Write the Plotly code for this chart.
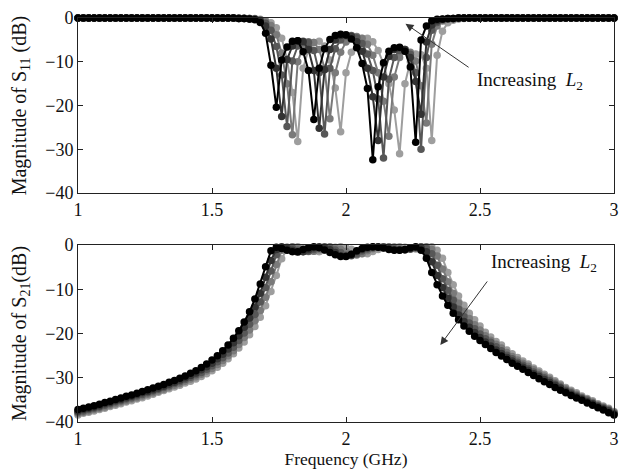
import plotly.graph_objects as go

# Frequency sweep (GHz)
freq_ghz = [
    1.00, 1.02, 1.04, 1.06, 1.08, 1.10, 1.12, 1.14, 1.16, 1.18,
    1.20, 1.22, 1.24, 1.26, 1.28, 1.30, 1.32, 1.34, 1.36, 1.38,
    1.40, 1.42, 1.44, 1.46, 1.48, 1.50, 1.52, 1.54, 1.56, 1.58,
    1.60, 1.62, 1.64, 1.66, 1.68, 1.70, 1.72, 1.74, 1.76, 1.78,
    1.80, 1.82, 1.84, 1.86, 1.88, 1.90, 1.92, 1.94, 1.96, 1.98,
    2.00, 2.02, 2.04, 2.06, 2.08, 2.10, 2.12, 2.14, 2.16, 2.18,
    2.20, 2.22, 2.24, 2.26, 2.28, 2.30, 2.32, 2.34, 2.36, 2.38,
    2.40, 2.42, 2.44, 2.46, 2.48, 2.50, 2.52, 2.54, 2.56, 2.58,
    2.60, 2.62, 2.64, 2.66, 2.68, 2.70, 2.72, 2.74, 2.76, 2.78,
    2.80, 2.82, 2.84, 2.86, 2.88, 2.90, 2.92, 2.94, 2.96, 2.98,
    3.00,
]

# |S11| (dB) for five values of L2, smallest L2 first
s11_l2_1 = [
    0, 0, 0, 0, 0, 0, 0, 0, 0, 0,
    0, 0, 0, 0, 0, 0, 0, 0, 0, 0,
    0, 0, 0, 0, 0, 0, 0, 0, 0, 0,
    -0.1, -0.1, -0.2, -0.4, -1.0, -3.5, -10.8, -20.4, -9.6, -6.6,
    -5.3, -5.2, -7.7, -12.0, -23.2, -11.5, -7.0, -4.9, -4.0, -3.7,
    -3.9, -4.8, -6.8, -10.4, -16.1, -32.4, -15.7, -10.2, -7.6, -6.8,
    -6.7, -7.6, -11.2, -28.4, -5.0, -1.8, -0.6, -0.3, -0.2, -0.1,
    -0.1, 0, 0, 0, 0, 0, 0, 0, 0, 0,
    0, 0, 0, 0, 0, 0, 0, 0, 0, 0,
    0, 0, 0, 0, 0, 0, 0, 0, 0, 0,
    0,
]
s11_l2_2 = [
    0, 0, 0, 0, 0, 0, 0, 0, 0, 0,
    0, 0, 0, 0, 0, 0, 0, 0, 0, 0,
    0, 0, 0, 0, 0, 0, 0, 0, 0, 0,
    -0.1, -0.1, -0.2, -0.3, -0.7, -1.8, -4.8, -11.5, -22.5, -9.5,
    -6.4, -5.2, -5.4, -7.2, -12.0, -25.2, -11.8, -7.2, -5.0, -4.0,
    -3.8, -4.2, -5.4, -7.6, -11.5, -18.0, -28.0, -13.5, -8.8, -7.2,
    -6.8, -7.2, -9.0, -14.5, -22.0, -5.5, -1.6, -0.6, -0.3, -0.1,
    -0.1, 0, 0, 0, 0, 0, 0, 0, 0, 0,
    0, 0, 0, 0, 0, 0, 0, 0, 0, 0,
    0, 0, 0, 0, 0, 0, 0, 0, 0, 0,
    0,
]
s11_l2_3 = [
    0, 0, 0, 0, 0, 0, 0, 0, 0, 0,
    0, 0, 0, 0, 0, 0, 0, 0, 0, 0,
    0, 0, 0, 0, 0, 0, 0, 0, 0, 0,
    -0.1, -0.1, -0.1, -0.2, -0.5, -1.2, -2.8, -6.5, -13.0, -24.8,
    -9.8, -6.4, -5.3, -5.6, -7.4, -12.5, -26.5, -11.5, -7.0, -5.0,
    -4.1, -4.0, -4.5, -5.8, -8.2, -12.0, -18.5, -32.0, -14.0, -9.0,
    -7.4, -7.2, -8.3, -12.5, -30.0, -9.0, -2.8, -1.0, -0.4, -0.2,
    -0.1, 0, 0, 0, 0, 0, 0, 0, 0, 0,
    0, 0, 0, 0, 0, 0, 0, 0, 0, 0,
    0, 0, 0, 0, 0, 0, 0, 0, 0, 0,
    0,
]
s11_l2_4 = [
    0, 0, 0, 0, 0, 0, 0, 0, 0, 0,
    0, 0, 0, 0, 0, 0, 0, 0, 0, 0,
    0, 0, 0, 0, 0, 0, 0, 0, 0, 0,
    0, -0.1, -0.1, -0.2, -0.4, -0.8, -1.7, -3.8, -8.0, -15.0,
    -26.7, -10.0, -6.5, -5.4, -5.6, -7.2, -11.5, -23.0, -12.5, -7.8,
    -5.5, -4.5, -4.2, -4.6, -6.0, -8.5, -12.5, -19.0, -27.0, -13.5,
    -9.0, -7.6, -7.8, -9.8, -15.5, -24.0, -6.0, -1.8, -0.7, -0.3,
    -0.2, -0.1, 0, 0, 0, 0, 0, 0, 0, 0,
    0, 0, 0, 0, 0, 0, 0, 0, 0, 0,
    0, 0, 0, 0, 0, 0, 0, 0, 0, 0,
    0,
]
s11_l2_5 = [
    0, 0, 0, 0, 0, 0, 0, 0, 0, 0,
    0, 0, 0, 0, 0, 0, 0, 0, 0, 0,
    0, 0, 0, 0, 0, 0, 0, 0, 0, 0,
    0, 0, -0.1, -0.1, -0.3, -0.6, -1.1, -2.2, -4.6, -9.5,
    -17.0, -28.2, -11.5, -7.2, -5.6, -5.3, -6.4, -9.6, -16.0, -26.0,
    -12.5, -7.8, -5.6, -4.7, -4.6, -5.4, -7.4, -10.5, -15.0, -21.0,
    -31.0, -15.0, -10.0, -8.2, -8.4, -11.5, -28.0, -8.5, -3.0, -1.1,
    -0.5, -0.2, -0.1, 0, 0, 0, 0, 0, 0, 0,
    0, 0, 0, 0, 0, 0, 0, 0, 0, 0,
    0, 0, 0, 0, 0, 0, 0, 0, 0, 0,
    0,
]

# |S21| (dB) for the same five values of L2
s21_l2_1 = [
    -37.2, -36.9, -36.6, -36.3, -36.0, -35.6, -35.3, -34.9, -34.6, -34.2,
    -33.9, -33.5, -33.1, -32.7, -32.3, -31.9, -31.5, -31.0, -30.6, -30.1,
    -29.6, -29.0, -28.4, -27.7, -26.9, -26.0, -25.0, -23.9, -22.6, -21.1,
    -19.4, -17.4, -15.1, -12.2, -8.8, -4.9, -1.3, -0.5, -0.8, -1.2,
    -1.5, -1.5, -1.0, -0.6, -0.4, -0.6, -1.1, -1.7, -2.2, -2.6,
    -2.6, -2.1, -1.3, -0.8, -0.5, -0.4, -0.5, -0.7, -1.0, -1.2,
    -1.2, -1.0, -0.6, -0.4, -1.2, -3.0, -6.2, -9.0, -11.5, -13.6,
    -15.4, -16.9, -18.3, -19.5, -20.6, -21.6, -22.5, -23.4, -24.3, -25.1,
    -25.9, -26.7, -27.4, -28.1, -28.8, -29.5, -30.2, -30.9, -31.5, -32.2,
    -32.8, -33.4, -34.0, -34.6, -35.1, -35.7, -36.2, -36.8, -37.3, -37.9,
    -38.4,
]
s21_l2_2 = [
    -37.5, -37.2, -36.9, -36.6, -36.3, -35.9, -35.6, -35.2, -34.9, -34.5,
    -34.2, -33.8, -33.4, -33.1, -32.7, -32.3, -31.9, -31.4, -31.0, -30.5,
    -30.0, -29.5, -28.9, -28.2, -27.5, -26.7, -25.7, -24.7, -23.5, -22.1,
    -20.5, -18.6, -16.5, -14.0, -10.9, -7.3, -3.5, -1.0, -0.4, -0.75,
    -1.2, -1.6, -1.5, -1.05, -0.6, -0.4, -0.6, -1.05, -1.7, -2.4,
    -2.55, -2.25, -1.45, -1.0, -0.6, -0.45, -0.4, -0.55, -0.8, -1.05,
    -1.1, -1.05, -0.8, -0.5, -0.6, -1.5, -3.8, -6.9, -9.6, -12.0,
    -14.0, -15.8, -17.3, -18.6, -19.8, -20.9, -21.9, -22.8, -23.7, -24.5,
    -25.4, -26.2, -26.9, -27.6, -28.3, -29.1, -29.7, -30.4, -31.1, -31.7,
    -32.3, -33.1, -33.7, -34.3, -34.8, -35.4, -35.9, -36.5, -37.0, -37.5,
    -38.2,
]
s21_l2_3 = [
    -37.8, -37.5, -37.2, -36.9, -36.6, -36.2, -35.9, -35.5, -35.2, -34.8,
    -34.5, -34.1, -33.8, -33.4, -33.0, -32.6, -32.2, -31.8, -31.3, -30.9,
    -30.4, -29.9, -29.3, -28.8, -28.1, -27.3, -26.4, -25.5, -24.4, -23.1,
    -21.6, -19.9, -17.9, -15.7, -12.9, -9.6, -5.9, -2.2, -0.8, -0.5,
    -0.7, -1.2, -1.5, -1.4, -1.0, -0.6, -0.4, -0.6, -1.1, -1.7,
    -2.3, -2.4, -2.0, -1.35, -0.9, -0.6, -0.45, -0.4, -0.55, -0.8,
    -1.0, -1.05, -0.9, -0.6, -0.4, -0.8, -2.0, -4.6, -7.6, -10.2,
    -12.5, -14.5, -16.2, -17.6, -18.9, -20.1, -21.2, -22.0, -23.0, -23.9,
    -24.9, -25.7, -26.5, -27.2, -27.9, -28.7, -29.4, -30.0, -30.7, -31.4,
    -32.1, -32.8, -33.4, -34.0, -34.6, -35.1, -35.7, -36.3, -36.8, -37.3,
    -38.0,
]
s21_l2_4 = [
    -38.1, -37.8, -37.5, -37.2, -36.9, -36.6, -36.2, -35.9, -35.5, -35.2,
    -34.8, -34.5, -34.1, -33.7, -33.4, -33.0, -32.6, -32.1, -31.7, -31.3,
    -30.8, -30.3, -29.8, -29.2, -28.5, -27.9, -27.0, -26.1, -25.0, -23.9,
    -22.5, -20.9, -19.2, -17.1, -14.8, -11.8, -8.3, -4.4, -1.2, -0.6,
    -0.4, -0.7, -1.2, -1.45, -1.4, -1.05, -0.6, -0.4, -0.6, -0.95,
    -1.4, -2.0, -2.25, -1.95, -1.3, -0.85, -0.6, -0.45, -0.4, -0.55,
    -0.8, -1.0, -0.95, -0.7, -0.5, -0.4, -1.0, -2.5, -5.4, -8.3,
    -10.9, -13.1, -15.0, -16.6, -18.0, -19.2, -20.5, -21.5, -22.4, -23.3,
    -24.3, -25.2, -26.0, -26.7, -27.4, -28.2, -28.9, -29.6, -30.3, -31.0,
    -31.7, -32.5, -33.1, -33.7, -34.4, -34.9, -35.5, -36.1, -36.6, -37.1,
    -37.8,
]
s21_l2_5 = [
    -38.4, -38.0, -37.8, -37.5, -37.2, -36.9, -36.5, -36.2, -35.9, -35.5,
    -35.2, -34.8, -34.5, -34.1, -33.7, -33.3, -32.9, -32.5, -32.1, -31.7,
    -31.2, -30.8, -30.3, -29.7, -29.1, -28.4, -27.6, -26.7, -25.7, -24.6,
    -23.3, -21.9, -20.3, -18.4, -16.3, -13.7, -10.5, -6.9, -3.1, -0.9,
    -0.5, -0.4, -0.6, -1.05, -1.4, -1.5, -1.2, -0.75, -0.5, -0.4,
    -0.6, -0.95, -1.4, -1.9, -1.95, -1.45, -1.0, -0.65, -0.5, -0.4,
    -0.4, -0.5, -0.7, -0.9, -0.85, -0.6, -0.4, -1.2, -3.0, -6.2,
    -9.0, -11.5, -13.6, -15.4, -16.9, -18.3, -19.7, -20.8, -21.8, -22.6,
    -23.7, -24.6, -25.4, -26.2, -26.9, -27.8, -28.5, -29.2, -29.9, -30.7,
    -31.4, -32.2, -32.8, -33.4, -34.1, -34.7, -35.2, -35.9, -36.4, -36.9,
    -37.6,
]

l2_colors = ["#000000", "#333333", "#575757", "#7a7a7a", "#9e9e9e"]
x_ticks = [1, 1.5, 2, 2.5, 3]
y_ticks = [-40, -30, -20, -10, 0]

s11_sets = [s11_l2_1, s11_l2_2, s11_l2_3, s11_l2_4, s11_l2_5]
s21_sets = [s21_l2_1, s21_l2_2, s21_l2_3, s21_l2_4, s21_l2_5]

FONT = "Liberation Serif, Times New Roman, serif"
INK = "#111111"

fig = go.Figure()

# Lightest (largest L2) first so the black curve sits on top
for k in reversed(range(5)):
    for yvals, xa, ya in ((s11_sets[k], "x", "y"), (s21_sets[k], "x2", "y2")):
        fig.add_trace(go.Scatter(
            x=freq_ghz, y=yvals, xaxis=xa, yaxis=ya,
            mode="lines+markers",
            line=dict(color=l2_colors[k], width=2),
            marker=dict(color=l2_colors[k], size=7.5, symbol="circle"),
            cliponaxis=False, showlegend=False, hoverinfo="skip",
        ))

axis_common = dict(
    showline=True, linecolor="#222222", linewidth=1, mirror="allticks",
    ticks="inside", ticklen=5, tickwidth=1, tickcolor="#222222",
    showgrid=False, zeroline=False, automargin=False,
    ticklabeloverflow="allow",
    tickfont=dict(family=FONT, size=18, color=INK),
)

fig.update_layout(
    template="none",
    width=619, height=470,
    margin=dict(l=78, r=5, t=18, b=48),
    paper_bgcolor="white", plot_bgcolor="white",
    font=dict(family=FONT, size=18, color=INK),
    xaxis=dict(domain=[0, 1], anchor="y", range=[1, 3], tickvals=x_ticks, **axis_common),
    yaxis=dict(domain=[0.5668, 1], anchor="x", range=[-40, 0], tickvals=y_ticks,
               title=dict(text="Magnitude of S<sub>11</sub> (dB)", standoff=13,
                          font=dict(family=FONT, size=20, color=INK)),
               **axis_common),
    xaxis2=dict(domain=[0, 1], anchor="y2", range=[1, 3], tickvals=x_ticks,
                title=dict(text="Frequency (GHz)", standoff=0,
                           font=dict(family=FONT, size=17.5, color=INK)),
                **axis_common),
    yaxis2=dict(domain=[0, 0.4381], anchor="x2", range=[-40, 0], tickvals=y_ticks,
                title=dict(text="Magnitude of S<sub>21</sub>(dB)", standoff=13,
                           font=dict(family=FONT, size=20, color=INK)),
                **axis_common),
)

label = "Increasing\u00a0\u00a0<i>L</i><sub>2</sub>"
arrow_style = dict(showarrow=True, arrowhead=2, arrowsize=1.6, arrowwidth=1,
                   arrowcolor="#333333", text="")

# Top panel: arrow and label
fig.add_annotation(x=2.222, y=-1.3, ax=2.463, ay=-11.5, xref="x", yref="y",
                   axref="x", ayref="y", **arrow_style)
fig.add_annotation(x=2.480, y=-14.3, xref="x", yref="y", text=label,
                   showarrow=False, xanchor="left", yanchor="middle",
                   font=dict(family=FONT, size=19, color=INK))

# Bottom panel: arrow and label
fig.add_annotation(x=2.352, y=-22.6, ax=2.531, ay=-7.9, xref="x2", yref="y2",
                   axref="x2", ayref="y2", **arrow_style)
fig.add_annotation(x=2.535, y=-4.1, xref="x2", yref="y2", text=label,
                   showarrow=False, xanchor="left", yanchor="middle",
                   font=dict(family=FONT, size=19, color=INK))

fig.write_html("out.html", config={"displayModeBar": False})
